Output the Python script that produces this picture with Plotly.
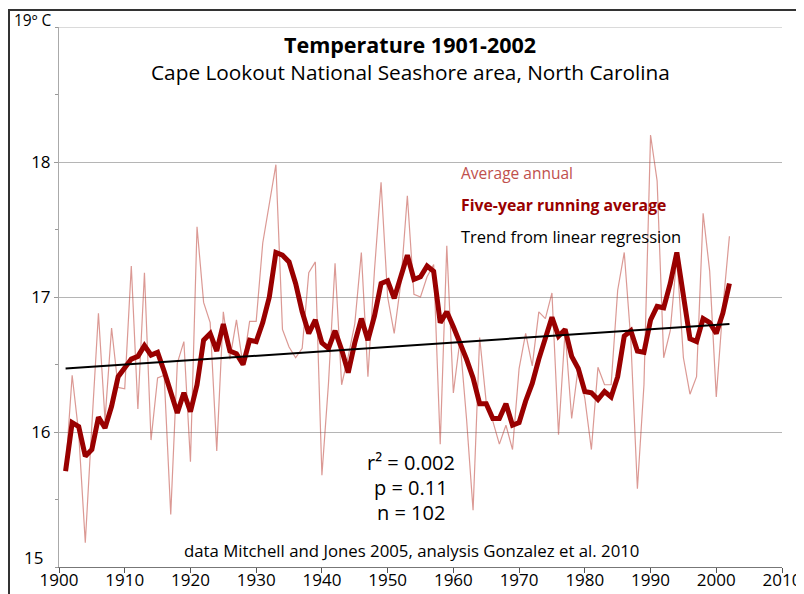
import plotly.graph_objects as go

years = list(range(1901, 2003))

annual = [
    15.71, 16.42, 15.99, 15.18, 16.05, 16.88, 16.09, 16.77, 16.33, 16.32,  # 1901-1910
    17.23, 16.17, 17.18, 15.94, 16.40, 16.42, 15.39, 16.51, 16.67, 15.78,  # 1911-1920
    17.52, 16.96, 16.81, 15.86, 16.89, 16.54, 16.83, 16.49, 16.82, 16.82,  # 1921-1930
    17.40, 17.68, 17.98, 16.76, 16.63, 16.55, 16.62, 17.18, 17.26, 15.68,  # 1931-1940
    16.36, 17.25, 16.35, 16.56, 16.80, 17.33, 16.41, 17.20, 17.85, 17.00,  # 1941-1950
    16.73, 17.10, 17.75, 17.02, 17.00, 17.15, 17.24, 15.91, 17.38, 16.29,  # 1951-1960
    16.68, 16.10, 15.42, 16.70, 16.22, 16.08, 15.91, 16.05, 15.87, 16.47,  # 1961-1970
    16.73, 16.49, 16.89, 16.84, 17.03, 15.98, 16.75, 16.10, 16.48, 16.25,  # 1971-1980
    15.87, 16.48, 16.35, 16.35, 17.05, 17.33, 16.68, 15.58, 16.35, 18.20,  # 1981-1990
    17.86, 16.55, 16.75, 17.30, 16.55, 16.28, 16.41, 17.62, 17.19, 16.26,  # 1991-2000
    16.92, 17.45,                                                          # 2001-2002
]

running5 = [
    15.71, 16.07, 16.04, 15.82, 15.87, 16.11, 16.03, 16.19, 16.41, 16.47,
    16.54, 16.56, 16.64, 16.57, 16.59, 16.45, 16.29, 16.14, 16.29, 16.15,
    16.35, 16.68, 16.73, 16.60, 16.80, 16.60, 16.58, 16.50, 16.68, 16.67,
    16.81, 17.00, 17.33, 17.31, 17.26, 17.10, 16.89, 16.73, 16.83, 16.66,
    16.62, 16.75, 16.61, 16.44, 16.66, 16.84, 16.68, 16.86, 17.10, 17.12,
    16.99, 17.15, 17.31, 17.13, 17.15, 17.23, 17.19, 16.81, 16.89, 16.78,
    16.67, 16.54, 16.40, 16.21, 16.21, 16.10, 16.10, 16.21, 16.05, 16.07,
    16.23, 16.36, 16.54, 16.71, 16.85, 16.71, 16.76, 16.56, 16.47, 16.30,
    16.29, 16.24, 16.30, 16.26, 16.41, 16.71, 16.75, 16.60, 16.59, 16.83,
    16.93, 16.92, 17.10, 17.33, 17.00, 16.69, 16.67, 16.84, 16.81, 16.73,
    16.88, 17.10,
]

trend_years = [1901, 2002]
trend_values = [16.47, 16.80]

x_ticks = list(range(1900, 2011, 10))
y_ticks = [16, 17, 18]
y_ticktext = ["16", "17", "18"]
y_top = 19

title = "Temperature 1901-2002"
subtitle = "Cape Lookout National Seashore area, North Carolina"
legend_items = ["Average annual", "Five-year running average", "Trend from linear regression"]
stats = ["r² = 0.002", "p = 0.11", "n = 102"]
credit = "data Mitchell and Jones 2005, analysis Gonzalez et al. 2010"

# the page has an 8px body margin, so the figure is drawn 8px smaller and
# all reference-pixel positions below are shifted by OFF
OFF = 8
W, H = 804 - OFF, 594 - OFF
PLOT_L, PLOT_R, PLOT_T, PLOT_B = 59, 782, 27, 567.3   # reference pixels
L, R = PLOT_L - OFF, W - (PLOT_R - OFF)
T, B = PLOT_T - OFF, H - (PLOT_B - OFF)
PW, PH = W - L - R, H - T - B

def px(xp):
    return (xp - OFF - L) / PW

def py(yp):
    return (H - B - (yp - OFF)) / PH

FONT = "Open Sans"
THIN = "rgba(190,70,60,0.55)"
THICK = "#990000"
GRID = "#b5b5b5"

fig = go.Figure()
fig.add_trace(go.Scatter(x=years, y=annual, mode="lines",
                         line=dict(color=THIN, width=1.2), hoverinfo="skip"))
fig.add_trace(go.Scatter(x=years, y=running5, mode="lines",
                         line=dict(color=THICK, width=5), hoverinfo="skip"))
fig.add_trace(go.Scatter(x=trend_years, y=trend_values, mode="lines",
                         line=dict(color="black", width=2), hoverinfo="skip"))

def note(x, y, text, size, color="black", xanchor="center"):
    return dict(x=px(x), y=py(y), xref="paper", yref="paper", text=text,
                xanchor=xanchor, yanchor="middle", showarrow=False,
                font=dict(size=size, color=color, family=FONT))

ann = [
    note(410, 45, "<b>" + title + "</b>", 21.5),
    note(410, 72, subtitle, 20.8),
]
leg_colors = ["#c0504d", THICK, "black"]
leg_sizes = [15.5, 15.8, 16.5]
leg_y = [173, 205, 237]
for i, t in enumerate(legend_items):
    txt = "<b>" + t + "</b>" if i == 1 else t
    ann.append(note(459, leg_y[i], txt, leg_sizes[i], leg_colors[i], "left"))
for i, t in enumerate(stats):
    ann.append(note(411, 463 + i * 25, t, 20))
ann.append(note(411, 551, credit, 16.8))
ann.append(note(12, 20, "19º C", 15.5, xanchor="left"))
ann.append(note(45, 558, "15", 17, xanchor="right"))

fig.update_layout(
    width=W, height=H,
    margin=dict(l=L, r=R, t=T, b=B, pad=0, autoexpand=False),
    paper_bgcolor="white", plot_bgcolor="white",
    showlegend=False,
    annotations=ann,
    shapes=[
        dict(type="line", xref="paper", yref="y", x0=px(56), x1=1, y0=y_top, y1=y_top,
             line=dict(color=GRID, width=1), layer="below"),
        dict(type="rect", xref="paper", yref="paper",
             x0=px(9), x1=px(800), y0=py(605), y1=py(10),
             line=dict(color="#333333", width=2)),
    ],
    font=dict(family=FONT, size=15, color="black"),
)
fig.update_xaxes(range=[1900, 2010], tickvals=x_ticks, ticks="outside", ticklen=5,
                 tickcolor="#555", showline=True, linecolor="#777", linewidth=1,
                 showgrid=False, zeroline=False, automargin=False,
                 ticklabelstandoff=-7,
                 tickfont=dict(size=17, family=FONT))
fig.update_yaxes(range=[15, 19], tickvals=y_ticks, ticktext=y_ticktext, ticks="outside",
                 ticklen=4, tickcolor="#999", showline=True, linecolor="#aaa", linewidth=1,
                 showgrid=True, gridcolor=GRID, gridwidth=1, zeroline=False, automargin=False,
                 tickfont=dict(size=17, family=FONT),
                 minor=dict(tickvals=[15, 15.5, 16.5, 17.5, 18.5, 19], ticks="outside", ticklen=3,
                            tickcolor="#999", showgrid=False))

fig.write_html("out.html")
